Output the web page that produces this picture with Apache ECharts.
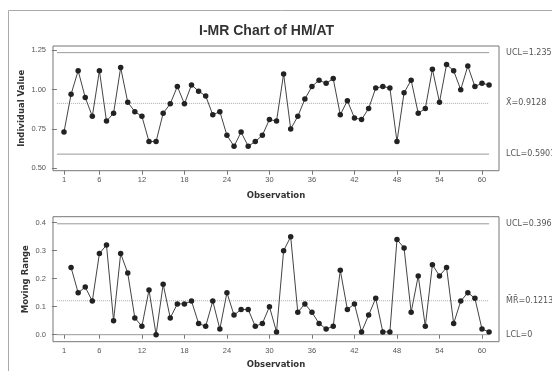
<!DOCTYPE html>
<html>
<head>
<meta charset="utf-8">
<script src="https://cdn.jsdelivr.net/npm/echarts@6/dist/echarts.min.js"></script>
<style>
  html, body { margin: 0; padding: 0; background: #fff; }
  #chart { width: 552px; height: 371px; }
</style>
</head>
<body>
<div id="chart"></div>
<script>
// Individual measurements of HM/AT, observations 1..61
const individualValues = [
  0.73, 0.97, 1.12, 0.95, 0.83, 1.12, 0.80, 0.85, 1.14, 0.92,
  0.86, 0.83, 0.67, 0.67, 0.85, 0.91, 1.02, 0.91, 1.03, 0.99,
  0.96, 0.84, 0.86, 0.71, 0.64, 0.73, 0.64, 0.67, 0.71, 0.81,
  0.80, 1.10, 0.75, 0.83, 0.94, 1.02, 1.06, 1.04, 1.07, 0.84,
  0.93, 0.82, 0.81, 0.88, 1.01, 1.02, 1.01, 0.67, 0.98, 1.06,
  0.85, 0.88, 1.13, 0.92, 1.16, 1.12, 1.00, 1.15, 1.02, 1.04,
  1.03
];
// Moving ranges (first observation has none)
const movingRanges = [
  null, 0.24, 0.15, 0.17, 0.12, 0.29, 0.32, 0.05, 0.29, 0.22,
  0.06, 0.03, 0.16, 0.00, 0.18, 0.06, 0.11, 0.11, 0.12, 0.04,
  0.03, 0.12, 0.02, 0.15, 0.07, 0.09, 0.09, 0.03, 0.04, 0.10,
  0.01, 0.30, 0.35, 0.08, 0.11, 0.08, 0.04, 0.02, 0.03, 0.23,
  0.09, 0.11, 0.01, 0.07, 0.13, 0.01, 0.01, 0.34, 0.31, 0.08,
  0.21, 0.03, 0.25, 0.21, 0.24, 0.04, 0.12, 0.15, 0.13, 0.02,
  0.01
];
const observations = individualValues.map((_, i) => i + 1);

const xTicks = [1, 6, 12, 18, 24, 30, 36, 42, 48, 54, 60];
const iTicks = [0.50, 0.75, 1.00, 1.25];
const mrTicks = [0.0, 0.1, 0.2, 0.3, 0.4];

// Control limits: UCL, centre line, LCL
const iLimits = [1.235, 0.9128, 0.5901];
const iLimitLabels = ['UCL=1.235', 'X\u0304=0.9128', 'LCL=0.5901'];
const mrLimits = [0.396, 0.1213, 0];
const mrLimitLabels = ['UCL=0.396', 'M\u0304R\u0304=0.1213', 'LCL=0'];
const limitSpan = [0, 61];

const TICK_FONT = 'Liberation Sans, Arial, sans-serif';
const NOTE_FONT = 'DejaVu Sans, Verdana, sans-serif';

function xAxisFor(gridIndex, gap) {
  return {
    type: 'value', gridIndex, min: -0.55, max: 62.4,
    axisLine: { show: false },
    splitLine: { show: false },
    axisTick: { show: true, customValues: xTicks, length: 4, lineStyle: { color: '#777' } },
    axisLabel: { customValues: xTicks, fontSize: 7.5, color: '#555', margin: 5, fontFamily: TICK_FONT },
    name: 'Observation', nameLocation: 'middle', nameGap: gap, nameMoveOverlap: false,
    nameTextStyle: { fontFamily: NOTE_FONT, fontWeight: 'bold', fontSize: 8.5, color: '#333' }
  };
}
function yAxisFor(gridIndex, min, max, ticks, digits, name, gap) {
  return {
    type: 'value', gridIndex, min, max,
    axisLine: { show: false },
    splitLine: { show: false },
    axisTick: { show: true, customValues: ticks, length: 5, lineStyle: { color: '#777' } },
    axisLabel: { customValues: ticks, fontSize: 7.5, color: '#555', margin: 7, fontFamily: TICK_FONT,
                 formatter: v => Number(v).toFixed(digits) },
    name, nameLocation: 'middle', nameGap: gap, nameRotate: 90, nameMoveOverlap: false,
    nameTextStyle: { fontFamily: NOTE_FONT, fontWeight: 'bold', fontSize: 8.5, color: '#333' }
  };
}
function dataSeries(values, axisIndex) {
  return {
    type: 'line', xAxisIndex: axisIndex, yAxisIndex: axisIndex,
    data: values.map((v, i) => [observations[i], v]).filter(p => p[1] !== null),
    symbol: 'circle', symbolSize: 5.5, showSymbol: true,
    lineStyle: { color: '#444', width: 1 },
    itemStyle: { color: '#222' },
    silent: true, z: 5
  };
}
function limitSeries(value, text, dotted, axisIndex) {
  return {
    type: 'line', xAxisIndex: axisIndex, yAxisIndex: axisIndex,
    data: limitSpan.map(x => [x, value]),
    symbol: 'none', silent: true, z: 3,
    lineStyle: { color: dotted ? '#aaa' : '#999', width: 1, type: dotted ? 'dotted' : 'solid' },
    endLabel: { show: true, formatter: text, distance: 17, fontSize: 8, color: '#555', fontFamily: NOTE_FONT }
  };
}

const series = [];
iLimits.forEach((v, k) => series.push(limitSeries(v, iLimitLabels[k], k === 1, 0)));
mrLimits.forEach((v, k) => series.push(limitSeries(v, mrLimitLabels[k], k === 1, 1)));
series.push(dataSeries(individualValues, 0));
series.push(dataSeries(movingRanges, 1));

const chart = echarts.init(document.getElementById('chart'), null, { renderer: 'canvas' });
chart.setOption({
  animation: false,
  backgroundColor: '#fff',
  title: {
    text: 'I-MR Chart of HM/AT', left: 194, top: 19,
    textStyle: { fontFamily: TICK_FONT, fontWeight: 'bold', fontSize: 14, color: '#333' }
  },
  graphic: [{
    type: 'rect', silent: true, z: -1,
    shape: { x: 8.5, y: 10.5, width: 600, height: 400 },
    style: { fill: 'none', stroke: '#aaa', lineWidth: 1 }
  }],
  grid: [
    { left: 53, top: 46, width: 446, height: 124.7, show: true, borderColor: '#777', borderWidth: 1 },
    { left: 53, top: 216.7, width: 446, height: 125, show: true, borderColor: '#777', borderWidth: 1 }
  ],
  xAxis: [xAxisFor(0, 21), xAxisFor(1, 19)],
  yAxis: [
    yAxisFor(0, 0.4847, 1.2773, iTicks, 2, 'Individual Value', 27),
    yAxisFor(1, -0.025, 0.4214, mrTicks, 1, 'Moving Range', 23)
  ],
  series
});
</script>
</body>
</html>
